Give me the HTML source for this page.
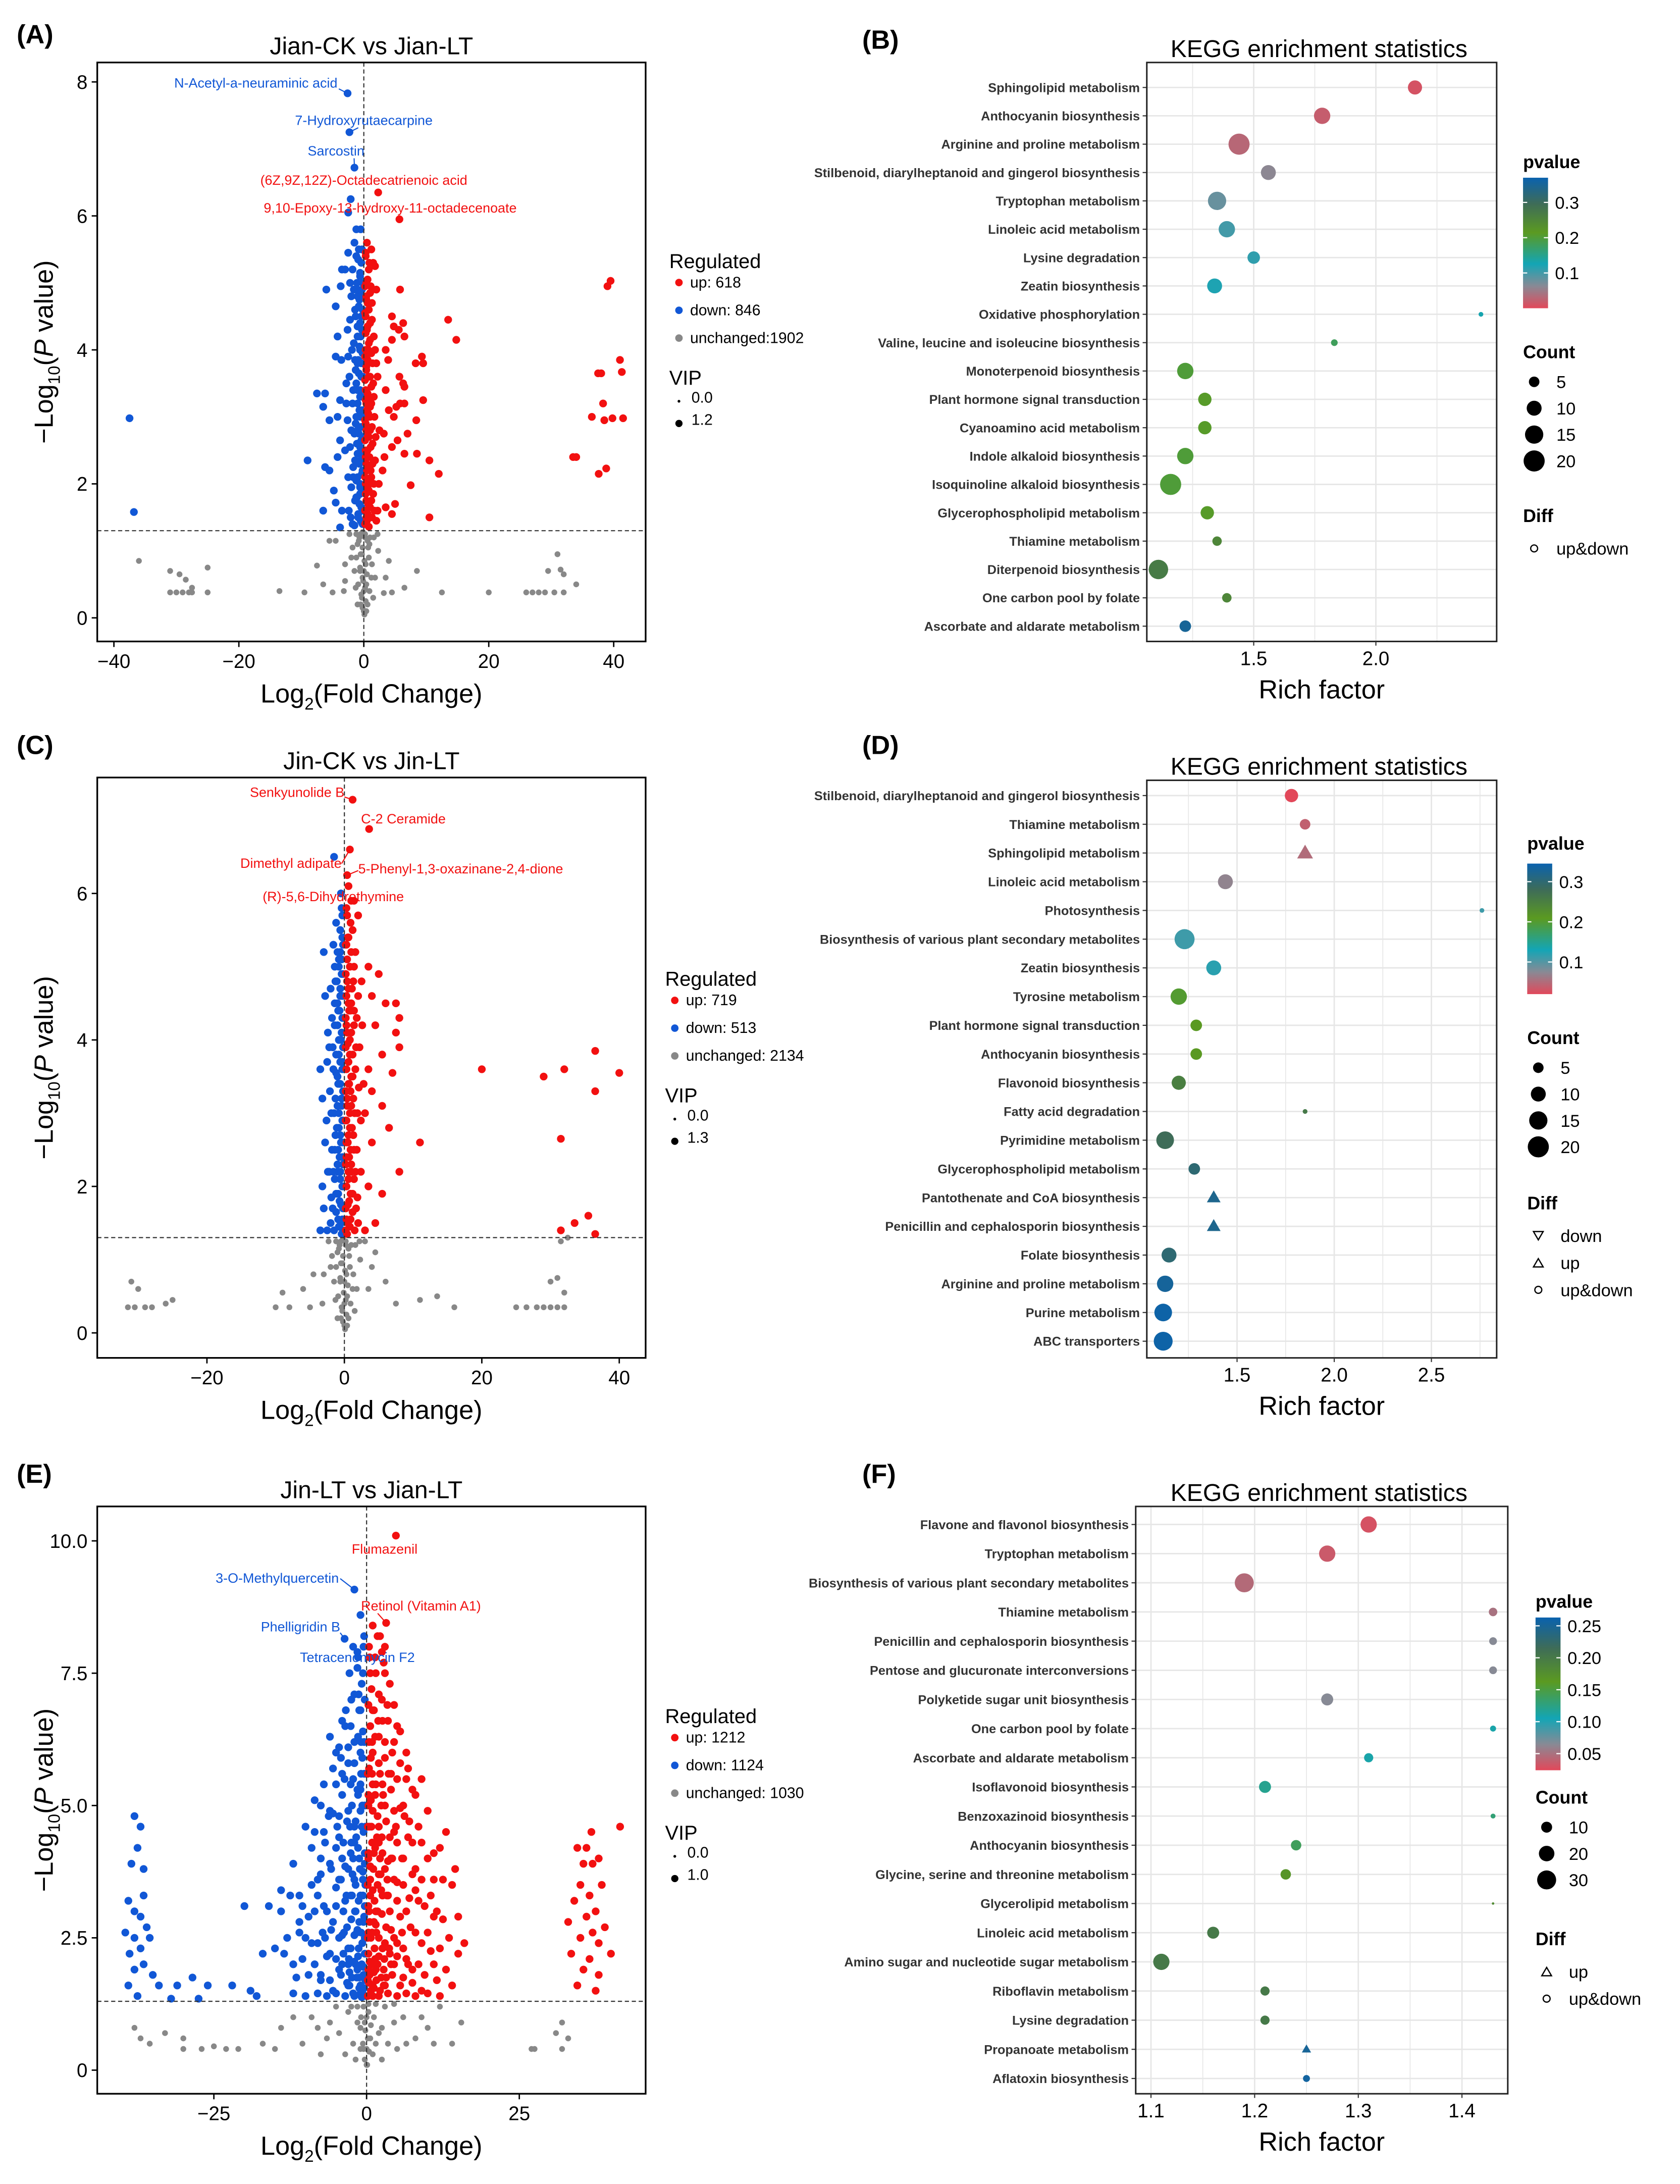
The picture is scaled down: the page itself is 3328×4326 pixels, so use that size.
<!DOCTYPE html>
<html><head><meta charset="utf-8"><style>
html,body{margin:0;padding:0;background:#fff}
svg{display:block}
text{font-family:"Liberation Sans",Arial,sans-serif}
</style></head><body>
<svg id="fig" xmlns="http://www.w3.org/2000/svg" width="3328" height="4326" viewBox="0 0 1210 1573">
<rect x="0" y="0" width="1210" height="1573" fill="#fff"/>
</svg>
<script>
function pts(s){return s.trim().split(/\s+/).map(p=>p.split(',').map(Number));}
// ---------------- DATA ----------------
const aUp=[[0.5,5.6],[1.2,5.5],[0.3,5.4],[1.5,5.3],[0.8,5.2],[1.8,5.25],[0.4,5.0],[1.1,4.95],[2.0,4.9],[0.6,4.7],[1.3,4.7],[0.3,4.5],[1.0,4.4],[0.5,4.3],[1.6,4.2],[0.8,4.1],[0.3,4.0],[1.2,3.95],[0.6,3.85],[2.0,3.8],[0.4,3.7],[1.0,3.6],[1.5,3.5],[0.3,3.4],[0.8,3.3],[1.2,3.2],[0.5,3.1],[1.7,3.0],[0.3,2.9],[1.0,2.8],[0.6,2.7],[1.4,2.6],[0.3,2.5],[0.9,2.4],[1.8,2.35],[0.5,2.2],[1.2,2.1],[0.3,2.0],[0.8,1.9],[1.5,1.85],[0.4,1.75],[1.0,1.65],[0.6,1.55],[1.3,1.5],[0.3,1.42],[0.8,1.36],[2.2,1.6],[2.5,2.8],[0.4,4.8],[0.4,3.2],[0.4,2.3],[0.4,1.5],[1.0,3.0],[1.1,2.2],[0.6,4.0],
[5.7,5.95],[2.3,6.35],[5.8,4.9],[4.5,4.5],[4.8,4.35],[6.3,4.4],[5.6,4.3],[6.5,4.2],[3.5,4.0],[4.5,4.15],[13.5,4.45],[14.8,4.15],[9.3,3.9],[8.3,3.8],[9.5,3.8],[3.9,3.85],[5.7,3.6],[6.3,3.5],[6.5,3.45],[3.5,3.4],[9.5,3.25],[6.5,3.2],[5.8,3.2],[5.2,3.15],[4.0,3.1],[4.8,3.0],[8.4,2.95],[3.2,2.75],[7.0,2.75],[5.4,2.65],[4.5,2.55],[6.5,2.45],[8.5,2.45],[3.3,2.4],[10.5,2.35],[12.0,2.15],[3.0,2.2],[7.5,1.98],[3.5,1.65],[5.0,1.7],[4.5,1.55],[10.5,1.5],
[39,4.95],[39.5,5.03],[41,3.85],[41.3,3.67],[37.5,3.65],[38,3.65],[38.3,3.2],[36.5,3.0],[38.5,2.95],[39.8,2.98],[41.5,2.98],[33.5,2.4],[34,2.4],[37.6,2.15],[38.8,2.23]];
const aUpCore=pts("0.2,1.4 0.5,1.45 0.9,1.5 0.2,1.6 0.7,1.7 1.2,1.75 0.3,1.85 0.6,1.95 1.0,2.05 0.2,2.1 0.7,2.25 1.4,2.3 0.3,2.4 0.6,2.5 1.1,2.55 0.2,2.65 0.8,2.7 0.4,2.8 1.3,2.85 0.2,2.95 0.7,3.05 1.0,3.15 0.3,3.25 0.6,3.35 1.2,3.45 0.2,3.55 0.8,3.6 0.4,3.75 1.4,3.8 0.2,3.9 0.7,4.0 1.0,4.15 0.3,4.25 0.6,4.35 1.3,4.45 0.2,4.55 0.8,4.6 0.4,4.75 1.0,4.85 0.2,4.95 0.6,5.05 0.9,5.3 0.3,5.45 1.6,2.0 1.9,2.7 1.6,3.3 1.8,4.0 1.4,4.9 2.2,3.6 2.4,2.0 2.0,1.45 1.7,1.6");
const aDown=[[-0.5,5.8],[-1.5,5.6],[-0.8,5.5],[-2.5,5.45],[-1.2,5.4],[-0.4,5.3],[-3,5.2],[-1.8,5.2],[-0.6,5.1],[-1.1,5.0],[-0.3,4.9],[-2.0,4.8],[-0.7,4.75],[-1.4,4.6],[-0.4,4.5],[-2.2,4.45],[-1.0,4.35],[-0.5,4.2],[-1.6,4.1],[-0.3,4.0],[-2.5,3.9],[-0.9,3.85],[-1.3,3.7],[-0.4,3.6],[-2.8,3.5],[-1.0,3.4],[-0.6,3.3],[-1.8,3.2],[-0.3,3.1],[-1.2,3.0],[-2.6,2.95],[-0.7,2.85],[-1.5,2.75],[-0.4,2.65],[-2.2,2.55],[-1.0,2.45],[-0.5,2.35],[-1.7,2.25],[-0.3,2.15],[-1.2,2.05],[-2.0,1.95],[-0.6,1.85],[-1.4,1.75],[-0.4,1.65],[-2.4,1.6],[-0.9,1.5],[-0.3,1.42],[-1.5,1.38],[-0.6,4.0],[-0.6,3.0],[-0.6,2.0],[-1.0,4.8],[-1.0,3.8],[-1.0,2.8],[-1.1,1.8],
[-2.6,7.83],[-2.3,7.25],[-1.5,6.72],[-2.1,6.25],[-2.5,6.05],[-1.2,5.8],[-3.5,5.2],[-6,4.9],[-4.5,4.65],[-3.7,4.95],[-4.2,4.2],[-4.5,3.9],[-3.6,3.85],[-7.5,3.35],[-6.2,3.35],[-6.5,3.15],[-3.8,3.25],[-5.5,2.95],[-4.2,3.0],[-3.8,2.65],[-9,2.35],[-6.2,2.25],[-5.5,2.2],[-4.2,2.4],[-4.8,1.9],[-6.5,1.6],[-3.5,1.6],[-4.5,1.72],[-3.8,1.35],[-37.5,2.98],[-36.8,1.58]];
const aDownCore=pts("-0.2,1.4 -0.5,1.45 -0.9,1.55 -0.2,1.6 -0.7,1.7 -1.2,1.8 -0.3,1.9 -0.6,1.95 -1.0,2.1 -0.2,2.2 -0.7,2.3 -1.4,2.35 -0.3,2.45 -0.6,2.55 -1.1,2.6 -0.2,2.7 -0.8,2.75 -0.4,2.85 -1.3,2.9 -0.2,3.0 -0.7,3.1 -1.0,3.2 -0.3,3.3 -0.6,3.4 -1.2,3.5 -0.2,3.6 -0.8,3.65 -0.4,3.8 -1.4,3.85 -0.2,3.95 -0.7,4.05 -1.0,4.2 -0.3,4.3 -0.6,4.4 -1.3,4.5 -0.2,4.6 -0.8,4.65 -0.4,4.8 -1.0,4.9 -0.2,5.0 -0.6,5.15 -0.9,5.35 -0.3,5.5 -1.7,2.1 -2.0,2.8 -1.7,3.4 -1.9,4.0 -1.6,4.9 -2.3,3.6 -2.5,2.1 -2.1,1.5 -1.8,1.4 -2.8,3.2 -2.6,4.3 -3.0,2.5 -2.2,5.0");
const aUnch=[[0,0.1],[-0.3,0.3],[0.4,0.5],[-0.6,0.7],[0.8,0.9],[-1.0,1.1],[0.2,1.2],[-0.5,0.95],[1.2,0.6],[-1.3,0.45],[0.6,0.2],[-0.2,1.28],[1.6,1.2],[-1.8,1.05],[-2.3,1.25],[2.3,1.0],[-5.5,1.15],[-4.5,1.15],[4,0.85],[-3,0.8],[3.5,0.6],[-3.2,0.4],[1.5,0.3],[-1.0,0.2],[0.3,0.8],[-0.7,1.2],[0.9,1.1],[-0.2,0.6],
[-36,0.85],[-31,0.7],[-29.5,0.65],[-28.5,0.57],[-27.5,0.45],[-25,0.75],[-31,0.38],[-30,0.38],[-29,0.38],[-28,0.38],[-27.5,0.38],[-25,0.38],[-13.5,0.4],[-9.5,0.38],[-7.5,0.78],[-6.5,0.5],[-5,0.38],[-3,0.55],[3.2,0.37],[4.5,0.38],[6.5,0.45],[8.5,0.7],[12.5,0.38],[20,0.38],[26,0.38],[27,0.38],[28,0.38],[29,0.38],[30.5,0.38],[32,0.38],[29.5,0.7],[31,0.95],[31.5,0.72],[32,0.65],[34,0.5]];
const aUnchCore=pts("0.1,0.05 -0.2,0.15 0.3,0.25 -0.4,0.35 0.2,0.45 -0.1,0.55 0.5,0.65 -0.6,0.75 0.1,0.85 -0.3,0.95 0.7,1.05 -0.8,1.15 0.2,1.25 -0.5,1.25 1.0,1.2 -1.2,0.9 1.3,0.8 -0.9,0.5 0.9,0.4 -0.5,0.2 0.4,0.1 -1.5,0.7 1.8,0.6 -2.0,0.9 2.2,1.25 -1.2,1.25 0.6,1.15 -0.2,1.05 0.0,0.7 0.0,0.4");
const aXTicks=[-40,-20,0,20,40];
const aYTicks=[0,2,4,6,8];

const cUp=[[0.4,5.7],[1.2,5.5],[0.3,5.3],[1.6,5.2],[0.8,5.0],[0.4,4.8],[1.1,4.7],[2.0,4.6],[0.6,4.5],[1.4,4.4],[0.3,4.2],[1.0,4.1],[0.5,3.95],[1.7,3.9],[0.8,3.8],[0.3,3.6],[1.2,3.5],[0.6,3.4],[2.1,3.35],[0.4,3.2],[1.0,3.1],[1.5,3.0],[0.3,2.9],[0.8,2.8],[1.3,2.7],[0.5,2.6],[1.8,2.5],[0.3,2.4],[1.0,2.3],[0.6,2.2],[1.4,2.1],[0.3,2.0],[0.9,1.9],[1.9,1.85],[0.5,1.75],[1.2,1.65],[0.3,1.55],[0.8,1.45],[1.5,1.4],[0.4,1.35],[2.4,2.9],[2.6,4.2],[1.0,5.9],[0.6,6.1],[0.9,3.3],[0.9,2.5],[0.9,4.4],[0.5,5.4],
[1.2,7.28],[3.6,6.88],[0.8,6.6],[0.4,6.25],[1.4,5.9],[2,5.7],[3.5,5.0],[5,4.9],[4,4.6],[7.5,4.5],[6,4.5],[8,4.3],[7.5,4.1],[4.5,4.2],[5.5,3.8],[8,3.9],[3.5,3.6],[7,3.55],[4,3.3],[5.5,3.1],[3,3.0],[6.5,2.8],[4,2.6],[11,2.6],[8,2.2],[3.5,2.0],[5.5,1.9],[4.5,1.5],[3,1.4],[20,3.6],[29,3.5],[32,3.6],[36.5,3.85],[40,3.55],[36.5,3.3],[31.5,2.65],[33.5,1.5],[35.5,1.6],[31.5,1.4],[36.5,1.35]];
const cUpCore=pts("0.2,1.4 0.5,1.5 0.9,1.55 0.2,1.7 0.7,1.8 1.2,1.9 0.3,2.0 0.6,2.1 1.0,2.2 0.2,2.3 0.7,2.4 1.4,2.5 0.3,2.6 0.6,2.7 1.1,2.8 0.2,2.9 0.8,3.0 0.4,3.1 1.3,3.2 0.2,3.3 0.7,3.4 1.0,3.5 0.3,3.6 0.6,3.7 1.2,3.8 0.2,3.9 0.8,4.0 0.4,4.1 1.4,4.2 0.2,4.3 0.7,4.4 1.0,4.5 0.3,4.6 0.6,4.7 1.3,4.8 0.2,4.9 0.8,5.0 0.4,5.1 1.0,5.2 0.2,5.3 0.6,5.4 0.9,5.6 0.3,5.8 1.6,2.2 1.9,3.0 1.6,3.6 1.8,4.3 1.4,5.0 2.2,3.9 2.4,2.2 2.0,1.5 1.7,1.7 2.5,4.8 2.8,3.4");
const cDown=[[-0.4,5.8],[-1.2,5.6],[-0.3,5.4],[-1.6,5.3],[-0.8,5.1],[-0.4,4.9],[-1.1,4.8],[-2.0,4.7],[-0.6,4.6],[-1.4,4.5],[-0.3,4.3],[-1.0,4.2],[-0.5,4.0],[-1.7,3.9],[-0.8,3.8],[-0.3,3.7],[-1.2,3.55],[-0.6,3.4],[-2.1,3.3],[-0.4,3.2],[-1.0,3.1],[-1.5,3.0],[-0.3,2.9],[-0.8,2.8],[-1.3,2.7],[-0.5,2.6],[-1.8,2.5],[-0.3,2.4],[-1.0,2.3],[-0.6,2.2],[-1.4,2.1],[-0.3,2.0],[-0.9,1.9],[-1.9,1.85],[-0.5,1.75],[-1.2,1.65],[-0.3,1.55],[-0.8,1.45],[-1.5,1.4],[-0.4,1.35],[-0.9,3.4],[-0.9,2.5],[-0.9,4.4],[-0.6,5.2],[-0.5,6.0],
[-3,5.2],[-2.8,4.6],[-2.4,4.1],[-3.5,3.6],[-3.2,3.2],[-2.8,2.6],[-3.2,2.0],[-3.5,1.4],[-2.5,1.4],[-1.5,6.5],[-2.5,3.7],[-2.2,2.2],[-3,1.7]];
const cDownCore=pts("-0.2,1.4 -0.5,1.5 -0.9,1.55 -0.2,1.7 -0.7,1.8 -1.2,1.9 -0.3,2.0 -0.6,2.1 -1.0,2.2 -0.2,2.3 -0.7,2.4 -1.4,2.5 -0.3,2.6 -0.6,2.7 -1.1,2.8 -0.2,2.9 -0.8,3.0 -0.4,3.1 -1.3,3.2 -0.2,3.3 -0.7,3.4 -1.0,3.5 -0.3,3.6 -0.6,3.7 -1.2,3.8 -0.2,3.9 -0.8,4.0 -0.4,4.1 -1.4,4.2 -0.2,4.3 -0.7,4.4 -1.0,4.5 -0.3,4.6 -0.6,4.7 -1.3,4.8 -0.2,4.9 -0.8,5.0 -0.4,5.1 -1.0,5.2 -0.2,5.3 -0.6,5.5 -0.3,5.7 -1.6,2.2 -1.9,3.0 -1.6,3.6 -1.8,4.3 -1.4,5.0 -2.2,3.9 -2.4,2.2 -2.0,1.5 -1.7,1.7 -2.6,2.9");
const cUnch=[[0,0.1],[-0.3,0.3],[0.4,0.5],[-0.6,0.7],[0.8,0.9],[-1.0,1.1],[0.2,1.2],[-0.5,0.95],[1.2,0.6],[-1.3,0.45],[0.6,0.2],[-0.2,1.28],[1.6,1.2],[-1.8,1.05],[-2.3,1.25],[2.3,1.0],[3,1.25],[-3,0.8],[3.5,0.6],[-3.2,0.4],[1.5,0.3],[-1.0,0.2],[0.3,0.8],[-0.7,1.2],
[-31,0.7],[-30,0.6],[-29,0.35],[-30.5,0.35],[-31.5,0.35],[-28,0.35],[-26,0.4],[-25,0.45],[-10,0.35],[-8,0.35],[-6,0.6],[-5,0.35],[-9,0.55],[-4.5,0.8],[4,0.9],[4.5,1.1],[6,0.7],[7.5,0.4],[11,0.45],[13.5,0.5],[16,0.35],[25,0.35],[26.5,0.35],[28,0.35],[29,0.35],[30,0.35],[31,0.35],[32,0.35],[30,0.7],[31,0.75],[32,0.55],[31.5,1.25],[32.5,1.3]];
const cUnchCore=pts("0.1,0.05 -0.2,0.15 0.3,0.25 -0.4,0.35 0.2,0.45 -0.1,0.55 0.5,0.65 -0.6,0.75 0.1,0.85 -0.3,0.95 0.7,1.05 -0.8,1.15 0.2,1.25 -0.5,1.25 1.0,1.2 -1.2,0.9 1.3,0.8 -0.9,0.5 0.9,0.4 -0.5,0.2 0.4,0.1 -1.5,0.7 1.8,0.6 -2.0,0.9 2.2,1.25 -1.2,1.25 0.6,1.15 -0.2,1.05 0.0,0.7 0.0,0.4");
const cXTicks=[-20,0,20,40];
const cYTicks=[0,2,4,6];

const eUp=[[0.5,7.8],[1.5,7.5],[0.8,7.2],[2.5,7.0],[1.2,6.8],[3.5,6.6],[0.6,6.5],[2.0,6.3],[4.5,6.2],[1.0,6.0],[3.0,5.9],[5.5,5.8],[0.4,5.7],[2.2,5.6],[6.5,5.5],[1.5,5.4],[4.0,5.3],[8,5.2],[0.7,5.1],[3.0,5.0],[5.5,4.95],[10,4.9],[1.8,4.8],[7.0,4.7],[0.5,4.6],[4.5,4.5],[2.5,4.4],[9,4.3],[12,4.2],[1.2,4.1],[6,4.0],[3.5,3.95],[0.6,3.85],[8,3.8],[2.0,3.7],[11,3.6],[5,3.55],[14,3.5],[1.0,3.4],[3.5,3.3],[7,3.25],[9.5,3.1],[0.4,3.0],[2.5,2.95],[5.5,2.9],[12.5,2.85],[1.5,2.75],[4.0,2.65],[8,2.6],[0.7,2.5],[3.0,2.4],[6,2.3],[10.5,2.25],[2.0,2.15],[0.5,2.05],[4.5,2.0],[7.5,1.9],[1.2,1.85],[3.2,1.75],[0.4,1.65],[5.5,1.6],[2.2,1.5],[0.8,1.42],[9,1.5],[13,1.9],[15,2.2],[14,1.6],[11.5,3.0],[10,4.0],[6.5,6.0],[3.8,7.3],[2.8,7.7],[3.2,8.45],[4.8,10.1],[3.0,8.0],[2.5,7.9],[1.8,8.2],[0.9,4.3],[1.5,3.0],[2.7,5.2],[4.2,4.0],[6,3.5],[5,2.4],[3.4,3.6],[1.9,6.6],[0.3,6.9],[0.3,5.2],[0.3,4.0],[0.3,2.6],[0.3,1.9],[1.0,1.6],[1.3,2.3],[2.6,3.3],[7.5,4.3],[8.5,3.2],[6.8,2.0],[4.0,5.6],[5.0,6.5],[2.0,4.3],[1.0,5.4],[11,2.0],[6.2,4.8],[3.7,2.3],[2.8,1.6],
[33,2.8],[33.5,2.2],[34,3.2],[34.5,1.6],[35,2.5],[35,3.5],[35.5,1.9],[36,2.9],[36,4.2],[36.5,3.3],[36.5,2.1],[37,2.6],[37,3.9],[37.5,1.5],[37.5,3.0],[38,2.4],[38,4.0],[38.5,3.5],[38,1.8],[39,2.7],[40,2.2],[41.5,4.6],[36.8,4.5],[34.5,4.2],[35.5,3.9]];
const eUpCore=pts("0.2,1.4 1.0,1.4 2.0,1.4 3.5,1.45 5.0,1.4 6.5,1.45 8.0,1.4 10,1.45 12,1.4 0.5,1.8 1.6,1.7 2.8,1.9 4.2,1.8 6.0,1.75 7.5,1.65 9.5,1.8 11.5,1.7 13.5,2.5 0.3,2.2 1.4,2.1 2.6,2.3 3.8,2.2 5.0,2.15 6.5,2.1 8.5,2.0 10,2.6 12,2.3 0.9,2.6 2.0,2.5 3.2,2.7 4.5,2.5 5.8,2.6 7.2,2.7 9,2.4 11,2.9 0.3,3.1 1.3,3.2 2.4,3.4 3.8,3.0 5.0,3.2 6.5,3.0 8,3.4 10.5,3.3 12.5,3.6 0.6,3.6 1.8,3.5 3.0,3.8 4.5,3.6 5.8,4.0 7.5,3.7 9,3.6 11,4.1 0.3,4.1 1.4,4.2 2.6,4.1 3.8,4.4 5.0,4.3 6.8,4.4 8.5,4.6 0.8,4.6 2.0,4.6 3.2,4.7 4.5,4.9 6.0,5.0 7.5,5.3 9,5.5 0.3,5.0 1.4,5.2 2.6,5.4 3.6,5.6 5.0,5.5 6.8,5.7 0.7,5.9 2.0,5.8 3.0,6.2 4.2,6.0 5.5,6.4 0.4,6.2 1.4,6.3 2.6,6.6 3.4,6.9 4.5,6.9 1.0,6.8 2.0,7.1 0.6,7.5 1.4,7.8 2.2,8.2 3.0,7.5 0.4,8.0 1.0,8.4 0.2,3.5 0.2,2.5 0.2,4.6 0.2,5.6 0.2,1.7 0.7,1.5 1.2,2.8 1.1,3.8 1.0,4.9 0.9,6.2 1.8,3.0 2.2,4.0 2.4,5.0 1.8,2.0 2.9,2.1 3.3,3.3 4.0,4.0 4.8,4.6 15,2.9 14.5,3.8 16,2.4 13,4.5 0.6,3.3 0.5,2.8 0.8,2.0 1.5,1.9 1.2,1.55 2.4,1.75 3.0,1.6 4.0,2.0 1.6,2.6 2.3,3.7 0.9,5.6 1.7,4.4");
const eDown=[[-0.5,8.0],[-1.5,7.6],[-0.8,7.3],[-2.5,7.0],[-1.2,6.8],[-3.5,6.5],[-0.6,6.4],[-2.0,6.2],[-4.5,6.1],[-1.0,6.0],[-3.0,5.8],[-5.5,5.7],[-0.4,5.6],[-2.2,5.5],[-7,5.4],[-1.5,5.3],[-4.0,5.2],[-8.5,5.1],[-0.7,5.0],[-3.0,4.9],[-5.5,4.85],[-10,4.6],[-1.8,4.7],[-7.0,4.5],[-0.5,4.5],[-4.5,4.4],[-2.5,4.3],[-9,4.2],[-12,3.9],[-1.2,4.0],[-6,3.9],[-3.5,3.85],[-0.6,3.75],[-8,3.6],[-2.0,3.6],[-11,3.3],[-5,3.45],[-14,3.0],[-1.0,3.3],[-3.5,3.2],[-7,3.1],[-9.5,2.9],[-0.4,2.9],[-2.5,2.85],[-5.5,2.8],[-13,2.5],[-1.5,2.65],[-4.0,2.55],[-8,2.4],[-0.7,2.4],[-3.0,2.3],[-6,2.2],[-10.5,2.1],[-2.0,2.05],[-0.5,1.95],[-4.5,1.9],[-7.5,1.8],[-1.2,1.75],[-3.2,1.65],[-0.4,1.55],[-5.5,1.5],[-2.2,1.45],[-0.8,1.38],[-16,3.1],[-20,3.1],[-22,1.6],[-26,1.6],[-18,1.4],[-2.0,9.08],[-3.6,8.15],[-1.5,7.9],[-2.8,7.5],[-1.0,8.6],[-4,6.6],[-6,6.3],[-1,5.3],[-2.7,4.6],[-4.2,3.6],[-1.9,3.0],[-3,2.0],[-0.3,7.0],[-0.3,5.0],[-0.3,3.9],[-0.3,2.5],[-0.3,1.8],[-1.0,1.6],[-1.3,2.3],[-2.6,3.3],[-7.5,4.0],[-8.5,3.0],[-6.8,2.5],[-4.0,5.6],[-5.0,6.0],[-2.0,4.3],[-1.0,5.4],[-11,2.6],[-6.2,4.8],[-3.7,2.6],[-2.8,1.6],[-1.3,7.1],
[-38,4.8],[-37,4.6],[-37.5,4.2],[-38.5,3.9],[-36.5,3.3],[-38,3.0],[-39,3.2],[-37,2.9],[-36,2.7],[-38,2.5],[-37,2.3],[-36.5,2.0],[-38,1.9],[-39,1.6],[-37.5,1.4],[-35,1.8],[-34,1.6],[-36.5,3.8],[-35.5,2.5],[-38.8,2.2],[-39.5,2.6],[-31,1.6],[-32,1.35],[-28.5,1.75],[-27.5,1.35]];
const eDownCore=pts("-0.2,1.4 -1.0,1.45 -2.0,1.4 -3.5,1.4 -5.0,1.45 -6.5,1.4 -8.0,1.45 -10,1.4 -12,1.45 -0.5,1.8 -1.6,1.75 -2.8,1.85 -4.2,1.8 -6.0,1.7 -7.5,1.7 -9.5,1.8 -11.5,1.75 -13.5,2.2 -0.3,2.2 -1.4,2.15 -2.6,2.3 -3.8,2.2 -5.0,2.1 -6.5,2.15 -8.5,2.0 -10,2.5 -12,2.0 -0.9,2.6 -2.0,2.55 -3.2,2.7 -4.5,2.5 -5.8,2.65 -7.2,2.6 -9,2.4 -11,2.8 -0.3,3.1 -1.3,3.2 -2.4,3.3 -3.8,3.0 -5.0,3.1 -6.5,3.0 -8,3.3 -10.5,3.1 -12.5,3.3 -0.6,3.6 -1.8,3.5 -3.0,3.8 -4.5,3.6 -5.8,3.8 -7.5,3.7 -9,3.5 -0.3,4.1 -1.4,4.2 -2.6,4.1 -3.8,4.3 -5.0,4.2 -6.8,4.3 -8.5,4.5 -0.8,4.6 -2.0,4.6 -3.2,4.7 -4.5,4.8 -6.0,4.9 -7.5,5.0 -0.3,5.0 -1.4,5.2 -2.6,5.4 -3.6,5.5 -5.0,5.4 -0.7,5.9 -2.0,5.8 -3.0,6.1 -4.2,5.9 -0.4,6.2 -1.4,6.3 -2.6,6.5 -3.4,6.8 -1.0,6.8 -2.0,7.1 -0.6,7.5 -1.4,7.8 -2.2,8.0 -0.4,8.2 -0.2,3.5 -0.2,2.5 -0.2,4.6 -0.2,5.6 -0.2,1.7 -0.7,1.5 -1.2,2.8 -1.1,3.8 -1.0,4.9 -0.9,6.2 -1.8,3.0 -2.2,4.0 -2.4,5.0 -1.8,2.0 -2.9,2.1 -3.3,3.3 -4.0,4.0 -4.8,4.6 -15,2.3 -14,3.4 -17,2.2 -19,1.5 -0.6,3.3 -0.5,2.8 -0.8,2.0 -1.5,1.9 -1.2,1.55 -2.4,1.75 -3.0,1.6 -4.0,2.0 -1.6,2.6 -2.3,3.7 -0.9,5.6 -1.7,4.4");
const eUnch=[[0,0.1],[-0.5,0.4],[0.6,0.6],[-1,0.8],[1.2,1.0],[-1.5,1.2],[0.3,1.25],[-0.3,0.9],[2,0.7],[-2.2,0.5],[1,0.3],[3,1.2],[-3,1.1],[4.5,0.9],[-4.5,0.7],[6,1.0],[-6,0.9],[8,0.6],[-7.5,0.3],[2.5,0.2],[-1.8,0.2],[5,0.4],[-9,1.0],[10,0.8],[12,1.2],[-10.5,0.5],
[-38,0.8],[-37,0.6],[-35.5,0.5],[-33,0.7],[-30,0.6],[-30,0.4],[-27,0.4],[-25,0.45],[-23,0.4],[-21,0.4],[-17,0.5],[-15,0.4],[-14,0.8],[14,0.5],[15.5,0.9],[27,0.4],[27.5,0.4],[31,0.7],[32,0.9],[33,0.6],[32,0.4]];
const eUnchCore=pts("0.1,0.1 -0.3,0.2 0.4,0.35 -0.6,0.5 0.2,0.6 -0.2,0.75 0.7,0.85 -0.9,1.0 0.3,1.1 -0.5,1.2 1.5,1.25 -1.5,0.9 2.5,0.8 -2.5,1.2 3.5,0.5 -3.5,0.3 4.5,1.25 -5,1.2 0.0,0.4 0.0,1.0 -1.0,0.4 1.5,0.5 6.5,0.5 -6.5,0.6 9,1.0 -8,0.8 11,0.5 -12,1.0");
const eXTicks=[-25,0,25];
const eYTicks=[0,2.5,5.0,7.5,10.0];
const eYTickLabels=["0","2.5","5.0","7.5","10.0"];

// KEGG B
const bPaths=["Sphingolipid metabolism","Anthocyanin biosynthesis","Arginine and proline metabolism","Stilbenoid, diarylheptanoid and gingerol biosynthesis","Tryptophan metabolism","Linoleic acid metabolism","Lysine degradation","Zeatin biosynthesis","Oxidative phosphorylation","Valine, leucine and isoleucine biosynthesis","Monoterpenoid biosynthesis","Plant hormone signal transduction","Cyanoamino acid metabolism","Indole alkaloid biosynthesis","Isoquinoline alkaloid biosynthesis","Glycerophospholipid metabolism","Thiamine metabolism","Diterpenoid biosynthesis","One carbon pool by folate","Ascorbate and aldarate metabolism"];
const bRich=[2.16,1.78,1.44,1.56,1.35,1.39,1.50,1.34,2.43,1.83,1.22,1.30,1.30,1.22,1.16,1.31,1.35,1.11,1.39,1.22];
const bCount=[9,12,20,10,15,12,7,10,1,2,12,8,8,12,20,8,4,17,4,6];
const bP=[0.01,0.02,0.03,0.06,0.08,0.1,0.11,0.12,0.13,0.18,0.2,0.21,0.21,0.2,0.2,0.21,0.25,0.27,0.25,0.35];
const bDiff=["o","o","o","o","o","o","o","o","o","o","o","o","o","o","o","o","o","o","o","o"];
const bXTicks=[1.5,2.0];
// KEGG D
const dPaths=["Stilbenoid, diarylheptanoid and gingerol biosynthesis","Thiamine metabolism","Sphingolipid metabolism","Linoleic acid metabolism","Photosynthesis","Biosynthesis of various plant secondary metabolites","Zeatin biosynthesis","Tyrosine metabolism","Plant hormone signal transduction","Anthocyanin biosynthesis","Flavonoid biosynthesis","Fatty acid degradation","Pyrimidine metabolism","Glycerophospholipid metabolism","Pantothenate and CoA biosynthesis","Penicillin and cephalosporin biosynthesis","Folate biosynthesis","Arginine and proline metabolism","Purine metabolism","ABC transporters"];
const dRich=[1.78,1.85,1.85,1.44,2.76,1.23,1.38,1.20,1.29,1.29,1.20,1.85,1.13,1.28,1.38,1.38,1.15,1.13,1.12,1.12];
const dCount=[8,5,8,10,1,18,10,12,6,6,9,1,14,6,6,6,10,12,14,16];
const dP=[0.02,0.04,0.05,0.07,0.11,0.11,0.12,0.2,0.21,0.21,0.25,0.26,0.28,0.3,0.32,0.32,0.3,0.33,0.34,0.34];
const dDiff=["o","o","up","o","o","o","o","o","o","o","o","o","o","o","up","up","o","o","o","o"];
const dXTicks=[1.5,2.0,2.5];
// KEGG F
const fPaths=["Flavone and flavonol biosynthesis","Tryptophan metabolism","Biosynthesis of various plant secondary metabolites","Thiamine metabolism","Penicillin and cephalosporin biosynthesis","Pentose and glucuronate interconversions","Polyketide sugar unit biosynthesis","One carbon pool by folate","Ascorbate and aldarate metabolism","Isoflavonoid biosynthesis","Benzoxazinoid biosynthesis","Anthocyanin biosynthesis","Glycine, serine and threonine metabolism","Glycerolipid metabolism","Linoleic acid metabolism","Amino sugar and nucleotide sugar metabolism","Riboflavin metabolism","Lysine degradation","Propanoate metabolism","Aflatoxin biosynthesis"];
const fRich=[1.31,1.27,1.19,1.43,1.43,1.43,1.27,1.43,1.31,1.21,1.43,1.24,1.23,1.43,1.16,1.11,1.21,1.21,1.25,1.25];
const fCount=[22,22,30,6,5,5,12,3,7,12,2,9,9,0.5,12,22,7,7,5,4];
const fP=[0.03,0.035,0.045,0.05,0.065,0.065,0.065,0.11,0.11,0.12,0.13,0.14,0.17,0.18,0.2,0.2,0.2,0.2,0.25,0.255];
const fDiff=["o","o","o","o","o","o","o","o","o","o","o","o","o","o","o","o","o","o","up","o"];
const fXTicks=[1.1,1.2,1.3,1.4];

// ---------------- DRAW ----------------
const NS="http://www.w3.org/2000/svg";
const svg=document.getElementById('fig');
function mk(tag,attrs,parent,txt){const e=document.createElementNS(NS,tag);for(const k in attrs)e.setAttribute(k,attrs[k]);if(txt!==undefined)e.textContent=txt;(parent||svg).appendChild(e);return e;}
function grp(name){const g=mk('g',{});return g;}
function lin(d0,d1,r0,r1){return v=>r0+(v-d0)*(r1-r0)/(d1-d0);}

const stops=[[0,[226,72,90]],[0.17,[136,138,149]],[0.34,[19,165,181]],[0.58,[91,154,33]],[0.8,[62,108,88]],[1,[10,98,174]]];
function cmap(t){t=Math.max(0,Math.min(1,t));for(let i=1;i<stops.length;i++){if(t<=stops[i][0]){const a=stops[i-1],b=stops[i];const u=(t-a[0])/(b[0]-a[0]);const c=a[1].map((v,j)=>Math.round(v+(b[1][j]-v)*u));return `rgb(${c[0]},${c[1]},${c[2]})`;}}return 'rgb(10,98,174)';}

function panelLabel(txt,x,y){const t=mk('text',{x:x,y:y,'font-size':19,'font-weight':'bold',fill:'#000'},svg,txt);}

function volcano(c){
  const g=grp(c.name);
  const X=lin(0,c.xUnit,c.x0px,c.x0px+c.xUnitPx), Y=lin(0,c.yUnit,c.y0px,c.y0px-c.yUnitPx);
  const f=c.frame;
  const tt=mk('text',{x:(f.x0+f.x1)/2,y:f.y0-6,'font-size':17.5,'text-anchor':'middle'},g,c.title);
  
  const pg=mk('g',{},g);
  c.unch.forEach(p=>{const e=mk('circle',{cx:X(p[0]),cy:Y(p[1]),r:2.1,fill:'#888'},pg);});
  c.down.forEach(p=>{const e=mk('circle',{cx:X(p[0]),cy:Y(p[1]),r:2.8,fill:'#1157d6'},pg);});
  c.up.forEach(p=>{const e=mk('circle',{cx:X(p[0]),cy:Y(p[1]),r:2.8,fill:'#f21010'},pg);});
  const vl=mk('line',{x1:X(0),x2:X(0),y1:f.y0,y2:f.y1,stroke:'#333','stroke-width':0.8,'stroke-dasharray':'3,2'},g);
  const hl=mk('line',{x1:f.x0,x2:f.x1,y1:Y(1.30103),y2:Y(1.30103),stroke:'#333','stroke-width':0.8,'stroke-dasharray':'3,2'},g);
  c.labels.forEach(l=>{const t=mk('text',{x:l.tx,y:l.ty,'font-size':9.8,fill:l.col,'text-anchor':l.anc},g,l.t);
    if(l.px!==undefined){const ln=mk('line',{x1:l.lx,y1:l.ly,x2:X(l.px),y2:Y(l.py),stroke:l.col,'stroke-width':0.8},g);}});
  const fr=mk('rect',{x:f.x0,y:f.y0,width:f.x1-f.x0,height:f.y1-f.y0,fill:'none',stroke:'#000','stroke-width':1.2},g);
  c.xt.forEach(v=>{const x=X(v);mk('line',{x1:x,x2:x,y1:f.y1,y2:f.y1+4,stroke:'#000','stroke-width':1},g);const t=mk('text',{x:x,y:f.y1+19,'font-size':14,'text-anchor':'middle'},g,v<0?'\u2212'+(-v):String(v));});
  c.yt.forEach((v,i)=>{const y=Y(v);mk('line',{x1:f.x0-4,x2:f.x0,y1:y,y2:y,stroke:'#000','stroke-width':1},g);const t=mk('text',{x:f.x0-7,y:y+5,'font-size':14,'text-anchor':'end'},g,c.ytl?c.ytl[i]:String(v));});
  const xa=mk('text',{x:(f.x0+f.x1)/2,y:f.y1+44,'font-size':19,'text-anchor':'middle'},g);
  mk('tspan',{},xa,'Log');mk('tspan',{'font-size':12,dy:5},xa,'2');mk('tspan',{dy:-5},xa,'(Fold Change)');
  const cy=(f.y0+f.y1)/2;
  const ya=mk('text',{x:0,y:0,'font-size':19,'text-anchor':'middle',transform:`translate(${f.x0-32},${cy}) rotate(-90)`},g);
  mk('tspan',{},ya,'\u2212Log');mk('tspan',{'font-size':12,dy:5},ya,'10');mk('tspan',{dy:-5},ya,'(');mk('tspan',{'font-style':'italic'},ya,'P');mk('tspan',{},ya,' value)');
  const L=c.leg;const lg=mk('g',{},g);
  mk('text',{x:L.x,y:L.y,'font-size':14.5},lg,'Regulated');
  [['#f21010',L.up],['#1157d6',L.down],['#888',L.un]].forEach((e,i)=>{const yy=L.y+14+i*20;const d=mk('circle',{cx:L.x+7,cy:yy-3.5,r:2.7,fill:e[0]},lg);mk('text',{x:L.x+15,y:yy,'font-size':11},lg,e[1]);});
  mk('text',{x:L.x,y:L.y+84,'font-size':14.5},lg,'VIP');
  mk('circle',{cx:L.x+7,cy:L.y+96,r:1,fill:'#000'},lg);mk('text',{x:L.x+16,y:L.y+97,'font-size':11},lg,'0.0');
  mk('circle',{cx:L.x+7,cy:L.y+112,r:2.6,fill:'#000'},lg);mk('text',{x:L.x+16,y:L.y+113,'font-size':11},lg,L.vip);
}

function kegg(c){
  const g=grp(c.name);const f=c.frame;
  const X=lin(c.xa,c.xb,c.xpa,c.xpb);
  const n=c.paths.length;const Y=i=>c.rowFirst+i*(c.rowLast-c.rowFirst)/(n-1);
  const tt=mk('text',{x:950,y:f.y0-4,'font-size':17.5,'text-anchor':'middle'},g,'KEGG enrichment statistics');
  mk('rect',{x:f.x0,y:f.y0,width:f.x1-f.x0,height:f.y1-f.y0,fill:'#fff'},g);
  const step=c.xt[1]-c.xt[0];
  for(let v=c.xt[0]-step*1.5;v<=c.xt[c.xt.length-1]+step*1.5;v+=step/2){const x=X(v);if(x>f.x0&&x<f.x1){const e=mk('line',{x1:x,x2:x,y1:f.y0,y2:f.y1,stroke:'#e6e6e6','stroke-width':Math.abs(((v-c.xt[0])/step)%1)<0.01||Math.abs(((v-c.xt[0])/step)%1)>0.99?1:0.6},g);}}
  c.paths.forEach((p,i)=>{const e=mk('line',{x1:f.x0,x2:f.x1,y1:Y(i),y2:Y(i),stroke:'#e6e6e6','stroke-width':1},g);});
  const pmin=c.pmin,pmax=c.pmax;
  c.paths.forEach((p,i)=>{
    const x=X(c.rich[i]),y=Y(i),r=c.k*Math.sqrt(c.count[i]),col=cmap((c.p[i]-pmin)/(pmax-pmin));
    let e;
    if(c.diff[i]==='up'){const s=r*1.25;e=mk('polygon',{points:`${x},${y-s} ${x-s*0.95},${y+s*0.65} ${x+s*0.95},${y+s*0.65}`,fill:col},g);}
    else e=mk('circle',{cx:x,cy:y,r:r,fill:col},g);
    
    const t=mk('text',{x:f.x0-5,y:y+3.3,'font-size':9.2,'font-weight':'bold',fill:'#333','text-anchor':'end'},g,p);
    mk('line',{x1:f.x0-3,x2:f.x0,y1:y,y2:y,stroke:'#333','stroke-width':0.8},g);
  });
  const fr=mk('rect',{x:f.x0,y:f.y0,width:f.x1-f.x0,height:f.y1-f.y0,fill:'none',stroke:'#222','stroke-width':1.1},g);
  c.xt.forEach(v=>{const x=X(v);mk('line',{x1:x,x2:x,y1:f.y1,y2:f.y1+3,stroke:'#333','stroke-width':0.8},g);const t=mk('text',{x:x,y:f.y1+17,'font-size':14,'text-anchor':'middle'},g,v.toFixed(1));});
  const xa=mk('text',{x:(f.x0+f.x1)/2,y:f.y1+41,'font-size':19,'text-anchor':'middle'},g,'Rich factor');
  const L=c.leg;const lg=mk('g',{},g);
  mk('text',{x:L.x,y:L.py,'font-size':13,'font-weight':'bold'},lg,'pvalue');
  const gid='grad'+c.name;const defs=mk('defs',{},lg);const lgd=mk('linearGradient',{id:gid,x1:0,y1:1,x2:0,y2:0},defs);
  stops.forEach(s=>mk('stop',{offset:s[0],'stop-color':cmap(s[0])},lgd));
  const bar=mk('rect',{x:L.x,y:L.by0,width:18,height:L.by1-L.by0,fill:`url(#${gid})`},lg);
  const BY=lin(pmin,pmax,L.by1,L.by0);
  c.cticks.forEach(v=>{const y=BY(v);mk('line',{x1:L.x,x2:L.x+3,y1:y,y2:y,stroke:'#fff','stroke-width':0.8},lg);mk('line',{x1:L.x+15,x2:L.x+18,y1:y,y2:y,stroke:'#fff','stroke-width':0.8},lg);mk('text',{x:L.x+23,y:y+4.5,'font-size':12.5},lg,c.ctl?v.toFixed(2):v.toFixed(1));});
  mk('text',{x:L.x,y:L.cy,'font-size':13,'font-weight':'bold'},lg,'Count');
  c.cleg.forEach((v,i)=>{const y=L.cy+17+i*19;const d=mk('circle',{cx:L.x+8,cy:y,r:c.k*Math.sqrt(v),fill:'#000'},lg);mk('text',{x:L.x+24,y:y+4.5,'font-size':12.5},lg,String(v));});
  mk('text',{x:L.x,y:L.dy,'font-size':13,'font-weight':'bold'},lg,'Diff');
  c.dleg.forEach((v,i)=>{const y=L.dy+19+i*19.5;const x=L.x+8;
    if(v==='down')mk('polygon',{points:`${x-3.5},${y-3} ${x+3.5},${y-3} ${x},${y+3}`,fill:'none',stroke:'#000','stroke-width':0.9},lg);
    else if(v==='up')mk('polygon',{points:`${x-3.5},${y+3} ${x+3.5},${y+3} ${x},${y-3}`,fill:'none',stroke:'#000','stroke-width':0.9},lg);
    else mk('circle',{cx:x,cy:y,r:2.5,fill:'none',stroke:'#000','stroke-width':0.9},lg);
    mk('text',{x:L.x+24,y:y+4.5,'font-size':12.5},lg,v);});
}

panelLabel('(A)',12,31);panelLabel('(B)',621,35);
panelLabel('(C)',12,543);panelLabel('(D)',621,543);
panelLabel('(E)',12,1068);panelLabel('(F)',621,1068);

volcano({name:'volcano-jian-ck-vs-jian-lt',title:'Jian-CK vs Jian-LT',frame:{x0:70,x1:465,y0:45,y1:462},
  x0px:262,xUnit:20,xUnitPx:90,y0px:445,yUnit:2,yUnitPx:96.5,up:aUp.concat(aUpCore),down:aDown.concat(aDownCore),unch:aUnch.concat(aUnchCore),xt:aXTicks,yt:aYTicks,
  labels:[{t:'N-Acetyl-a-neuraminic acid',tx:243,ty:63,anc:'end',col:'#1157d6',lx:244,ly:64,px:-2.6,py:7.83},
          {t:'7-Hydroxyrutaecarpine',tx:262,ty:90,anc:'middle',col:'#1157d6',lx:258,ly:92,px:-2.3,py:7.25},
          {t:'Sarcostin',tx:242,ty:112,anc:'middle',col:'#1157d6',lx:255,ly:114,px:-1.5,py:6.72},
          {t:'(6Z,9Z,12Z)-Octadecatrienoic acid',tx:262,ty:133,anc:'middle',col:'#f21010',lx:272,ly:141,px:2.3,py:6.35},
          {t:'9,10-Epoxy-13-hydroxy-11-octadecenoate',tx:281,ty:153,anc:'middle',col:'#f21010'}],
  leg:{x:482,y:193,up:'up: 618',down:'down: 846',un:'unchanged:1902',vip:'1.2'}});
volcano({name:'volcano-jin-ck-vs-jin-lt',title:'Jin-CK vs Jin-LT',frame:{x0:70,x1:465,y0:560,y1:978},
  x0px:248,xUnit:20,xUnitPx:99,y0px:960,yUnit:2,yUnitPx:105.5,up:cUp.concat(cUpCore),down:cDown.concat(cDownCore),unch:cUnch.concat(cUnchCore),xt:cXTicks,yt:cYTicks,
  labels:[{t:'Senkyunolide B',tx:248,ty:574,anc:'end',col:'#f21010',lx:248,ly:574,px:1.2,py:7.28},
          {t:'C-2 Ceramide',tx:260,ty:593,anc:'start',col:'#f21010',lx:268,ly:596,px:3.6,py:6.88},
          {t:'Dimethyl adipate',tx:246,ty:625,anc:'end',col:'#f21010',lx:246,ly:622,px:0.8,py:6.6},
          {t:'5-Phenyl-1,3-oxazinane-2,4-dione',tx:258,ty:629,anc:'start',col:'#f21010',lx:258,ly:627,px:0.4,py:6.25},
          {t:'(R)-5,6-Dihydrothymine',tx:240,ty:649,anc:'middle',col:'#f21010'}],
  leg:{x:479,y:710,up:'up: 719',down:'down: 513',un:'unchanged: 2134',vip:'1.3'}});
volcano({name:'volcano-jin-lt-vs-jian-lt',title:'Jin-LT vs Jian-LT',frame:{x0:70,x1:465,y0:1085,y1:1508},
  x0px:264,xUnit:25,xUnitPx:110,y0px:1491,yUnit:2.5,yUnitPx:95.3,up:eUp.concat(eUpCore),down:eDown.concat(eDownCore),unch:eUnch.concat(eUnchCore),xt:eXTicks,yt:eYTicks,ytl:eYTickLabels,
  labels:[{t:'Flumazenil',tx:277,ty:1119,anc:'middle',col:'#f21010'},
          {t:'3-O-Methylquercetin',tx:244,ty:1140,anc:'end',col:'#1157d6',lx:245,ly:1137,px:-2.0,py:9.08},
          {t:'Retinol (Vitamin A1)',tx:260,ty:1160,anc:'start',col:'#f21010',lx:272,ly:1162,px:3.2,py:8.45},
          {t:'Phelligridin B',tx:245,ty:1175,anc:'end',col:'#1157d6',lx:245,ly:1176,px:-3.6,py:8.15},
          {t:'Tetracenomycin F2',tx:216,ty:1197,anc:'start',col:'#1157d6'}],
  leg:{x:479,y:1241,up:'up: 1212',down:'down: 1124',un:'unchanged: 1030',vip:'1.0'}});

kegg({name:'kegg-b',frame:{x0:826,x1:1078,y0:45,y1:462},xa:1.5,xb:2.0,xpa:903,xpb:991,rowFirst:63,rowLast:451,
  paths:bPaths,rich:bRich,count:bCount,p:bP,diff:bDiff,xt:bXTicks,k:1.7,pmin:0.0,pmax:0.37,cticks:[0.1,0.2,0.3],cleg:[5,10,15,20],dleg:['up&down'],
  leg:{x:1097,py:121,by0:128,by1:222,cy:258,dy:376}});
kegg({name:'kegg-d',frame:{x0:826,x1:1078,y0:562,y1:978},xa:1.5,xb:2.0,xpa:891,xpb:961,rowFirst:573,rowLast:966,
  paths:dPaths,rich:dRich,count:dCount,p:dP,diff:dDiff,xt:dXTicks,k:1.7,pmin:0.02,pmax:0.345,cticks:[0.1,0.2,0.3],cleg:[5,10,15,20],dleg:['down','up','up&down'],
  leg:{x:1100,py:612,by0:622,by1:716,cy:752,dy:871}});
kegg({name:'kegg-f',frame:{x0:818,x1:1086,y0:1085,y1:1508},xa:1.1,xb:1.4,xpa:829,xpb:1053,rowFirst:1098,rowLast:1497,
  paths:fPaths,rich:fRich,count:fCount,p:fP,diff:fDiff,xt:fXTicks,k:1.25,pmin:0.024,pmax:0.263,cticks:[0.05,0.10,0.15,0.20,0.25],ctl:true,cleg:[10,20,30],dleg:['up','up&down'],
  leg:{x:1106,py:1158,by0:1165,by1:1275,cy:1299,dy:1401}});
</script>
</body></html>
